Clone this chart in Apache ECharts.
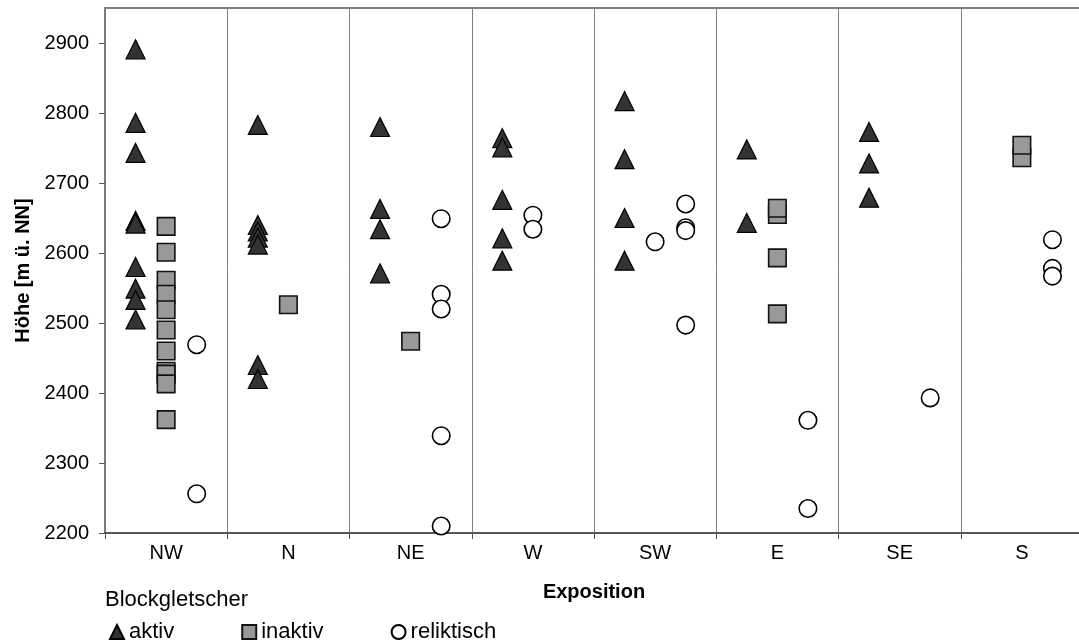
<!DOCTYPE html>
<html>
<head>
<meta charset="utf-8">
<script src="https://cdn.jsdelivr.net/npm/echarts@6/dist/echarts.min.js"></script>
<style>
  html, body { margin: 0; padding: 0; background: #ffffff; }
  #chart { width: 1079px; height: 644px; }
</style>
</head>
<body>
<div id="chart"></div>
<script>
// Exposition classes along the x axis
const categories = ['NW', 'N', 'NE', 'W', 'SW', 'E', 'SE', 'S'];
// Height axis ticks (m ü. NN)
const yTicks = [2200, 2300, 2400, 2500, 2600, 2700, 2800, 2900];

// Rock glaciers: [exposition, lane within the column (quarters), height]
const aktiv = [
  ['NW', 1, 2891], ['NW', 1, 2786], ['NW', 1, 2743], ['NW', 1, 2646], ['NW', 1, 2642],
  ['NW', 1, 2580], ['NW', 1, 2549], ['NW', 1, 2533], ['NW', 1, 2505],
  ['N', 1, 2783], ['N', 1, 2640], ['N', 1, 2631], ['N', 1, 2622], ['N', 1, 2612],
  ['N', 1, 2440], ['N', 1, 2420],
  ['NE', 1, 2780], ['NE', 1, 2663], ['NE', 1, 2634], ['NE', 1, 2571],
  ['W', 1, 2764], ['W', 1, 2751], ['W', 1, 2676], ['W', 1, 2621], ['W', 1, 2589],
  ['SW', 1, 2817], ['SW', 1, 2734], ['SW', 1, 2650], ['SW', 1, 2589],
  ['E', 1, 2748], ['E', 1, 2643],
  ['SE', 1, 2773], ['SE', 1, 2728], ['SE', 1, 2679]
];

const inaktiv = [
  ['NW', 2, 2638], ['NW', 2, 2601], ['NW', 2, 2561], ['NW', 2, 2541], ['NW', 2, 2519],
  ['NW', 2, 2490], ['NW', 2, 2460], ['NW', 2, 2431], ['NW', 2, 2427], ['NW', 2, 2413],
  ['NW', 2, 2362],
  ['N', 2, 2526],
  ['NE', 2, 2474],
  ['E', 2, 2655], ['E', 2, 2664], ['E', 2, 2593], ['E', 2, 2513],
  ['S', 2, 2736], ['S', 2, 2754]
];

const reliktisch = [
  ['NW', 3, 2469], ['NW', 3, 2256],
  ['NE', 3, 2649], ['NE', 3, 2541], ['NE', 3, 2520], ['NE', 3, 2339], ['NE', 3, 2210],
  ['W', 2, 2654], ['W', 2, 2634],
  ['SW', 2, 2616], ['SW', 3, 2670], ['SW', 3, 2636], ['SW', 3, 2632], ['SW', 3, 2497],
  ['E', 3, 2361], ['E', 3, 2235],
  ['SE', 3, 2393],
  ['S', 3, 2619], ['S', 3, 2578], ['S', 3, 2567]
];

// Place each point inside its exposition column on the numeric x axis
function toPoints(rows) {
  return rows.map(function (r) {
    return [categories.indexOf(r[0]) + r[1] / 4, r[2]];
  });
}

const FONT = "'Liberation Sans', Arial, sans-serif";

const chart = echarts.init(document.getElementById('chart'), null, { renderer: 'canvas' });

chart.setOption({
  backgroundColor: '#ffffff',
  animation: false,
  textStyle: { fontFamily: FONT, color: '#000' },
  title: {
    text: 'Blockgletscher',
    left: 105,
    top: 589,
    padding: 0,
    textStyle: { fontFamily: FONT, fontSize: 22, fontWeight: 'normal', color: '#000' }
  },
  legend: {
    left: 109,
    top: 621,
    padding: 0,
    itemGap: 67,
    itemWidth: 14,
    itemHeight: 14,
    data: ['aktiv', 'inaktiv', 'reliktisch'],
    textStyle: { fontFamily: FONT, fontSize: 22, color: '#000' }
  },
  grid: {
    left: 105,
    top: 8,
    width: 978,
    height: 525,
    outerBoundsMode: 'none',
    containLabel: false,
    show: true,
    borderColor: '#808080',
    borderWidth: 2,
    backgroundColor: '#ffffff'
  },
  xAxis: [
    {
      type: 'category',
      data: categories,
      boundaryGap: true,
      name: 'Exposition',
      nameLocation: 'middle',
      nameGap: 49,
      nameTextStyle: { fontFamily: FONT, fontSize: 20, fontWeight: 'bold', color: '#000' },
      axisLine: { show: true, lineStyle: { color: '#555555', width: 2 } },
      axisTick: { show: true, alignWithLabel: false, length: 6, lineStyle: { color: '#555555', width: 1 } },
      axisLabel: { fontFamily: FONT, fontSize: 20, color: '#000', margin: 10 },
      splitLine: { show: true, lineStyle: { color: '#808080', width: 1 } }
    },
    {
      type: 'value',
      min: 0,
      max: 8,
      show: false
    }
  ],
  yAxis: {
    type: 'value',
    min: 2200,
    max: 2950,
    interval: 100,
    name: 'Höhe [m ü. NN]',
    nameLocation: 'middle',
    nameRotate: 90,
    nameGap: 72,
    nameTextStyle: { fontFamily: FONT, fontSize: 20, fontWeight: 'bold', color: '#000' },
    axisLine: { show: true, lineStyle: { color: '#7a7a7a', width: 2 } },
    axisTick: { show: true, length: 6, customValues: yTicks, lineStyle: { color: '#555555', width: 1 } },
    axisLabel: {
      fontFamily: FONT, fontSize: 20, color: '#000', margin: 16, customValues: yTicks,
      formatter: function (v) { return String(v); }
    },
    splitLine: { show: false }
  },
  series: [
    {
      name: 'aktiv',
      type: 'scatter',
      xAxisIndex: 1,
      symbol: 'triangle',
      symbolSize: 19,
      itemStyle: { color: '#333333', borderColor: '#000000', borderWidth: 1.2, opacity: 1 },
      data: toPoints(aktiv)
    },
    {
      name: 'inaktiv',
      type: 'scatter',
      xAxisIndex: 1,
      symbol: 'rect',
      symbolSize: 17.5,
      itemStyle: { color: '#999999', borderColor: '#111111', borderWidth: 1.6, opacity: 1 },
      data: toPoints(inaktiv)
    },
    {
      name: 'reliktisch',
      type: 'scatter',
      xAxisIndex: 1,
      symbol: 'circle',
      symbolSize: 17.5,
      itemStyle: { color: '#ffffff', borderColor: '#000000', borderWidth: 1.6, opacity: 1 },
      data: toPoints(reliktisch)
    }
  ]
});
</script>
</body>
</html>
